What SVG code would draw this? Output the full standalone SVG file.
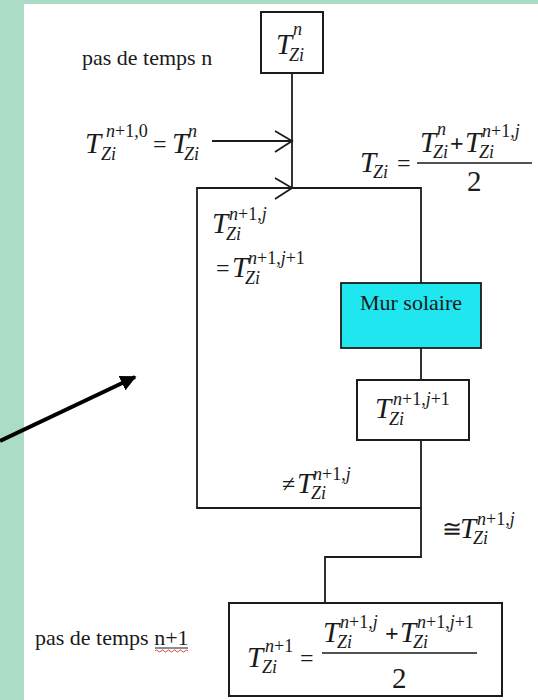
<svg xmlns="http://www.w3.org/2000/svg" width="538" height="700" viewBox="0 0 538 700">
<defs>
<style>
.t{font-family:"Liberation Serif","Times New Roman",serif;fill:#1a1a1a}
.txt{font-size:22px}
.m{font-size:29px;font-style:italic}
.s{font-size:18px;font-style:italic}
.u{font-style:normal}
.op{font-size:24px;font-style:normal}
.box{fill:#fff;stroke:#1c1c1c;stroke-width:2}
.ln{fill:none;stroke:#1c1c1c;stroke-width:1.8}
.fr{stroke:#1a1a1a;stroke-width:1.5}
</style>
<marker id="big" viewBox="0 0 10 10" refX="9" refY="5" markerWidth="4" markerHeight="4" orient="auto" markerUnits="strokeWidth">
<path d="M0,0 L10,5 L0,10 Z" fill="#000"/>
</marker>
</defs>
<rect x="0" y="0" width="538" height="700" fill="#aadcc6"/>
<rect x="24" y="4" width="514" height="696" fill="#fff"/>

<g id="connectors">
<path class="ln" d="M292,73 V188"/>
<path class="ln" d="M212,141 H292"/>
<path class="ln" d="M275,131 L292,141 L275,152"/>
<path class="ln" d="M275,178 L292,188 L275,199"/>
<path class="ln" d="M292,188 H421 V283 M421,348 V380 M421,440 V508 H197 V188 H292"/>
<path class="ln" d="M421,508 V557 H325 V603"/>
<line x1="0" y1="441" x2="135" y2="377" stroke="#000" stroke-width="4" marker-end="url(#big)"/>
</g>

<g id="label-n">
<text class="t txt" x="82" y="65">pas de temps n</text>
</g>

<g id="node-Tn">
<rect class="box" x="261" y="12" width="62" height="61"/>
<text class="t m" x="276" y="54">T</text>
<text class="t s" x="293" y="35">n</text>
<text class="t s" x="289" y="61">Zi</text>
</g>

<g id="label-init">
<text class="t m" x="85" y="153">T</text>
<text class="t s" x="106" y="137">n<tspan class="u">+1,0</tspan></text>
<text class="t s" x="101" y="160">Zi</text>
<text class="t op" x="153" y="152">=</text>
<text class="t m" x="172" y="153">T</text>
<text class="t s" x="188" y="137">n</text>
<text class="t s" x="184" y="160">Zi</text>
</g>

<g id="label-mean">
<text class="t m" x="360" y="172">T</text>
<text class="t s" x="373" y="178">Zi</text>
<text class="t op" x="397" y="171">=</text>
<line class="fr" x1="417" y1="163" x2="532" y2="163"/>
<text class="t m" x="420" y="152">T</text>
<text class="t s" x="437" y="135">n</text>
<text class="t s" x="433" y="158">Zi</text>
<text class="t op" x="450" y="151" font-weight="bold">+</text>
<text class="t m" x="465" y="152">T</text>
<text class="t s" x="482" y="137">n<tspan class="u">+1,</tspan>j</text>
<text class="t s" x="479" y="158">Zi</text>
<text class="t m u" x="467" y="191">2</text>
</g>

<g id="label-loop">
<text class="t m" x="212" y="233">T</text>
<text class="t s" x="229" y="220">n<tspan class="u">+1,</tspan>j</text>
<text class="t s" x="226" y="240">Zi</text>
<text class="t op" x="216" y="276">=</text>
<text class="t m" x="232" y="277">T</text>
<text class="t s" x="248" y="264">n<tspan class="u">+1,</tspan>j<tspan class="u">+1</tspan></text>
<text class="t s" x="245" y="284">Zi</text>
</g>

<g id="node-mur">
<rect x="341" y="283" width="140" height="65" fill="#20e6ef" stroke="#1c1c1c" stroke-width="1.8"/>
<text class="t txt" x="411" y="310" text-anchor="middle" fill="#123c44">Mur solaire</text>
</g>

<g id="node-Tj1">
<rect class="box" x="357" y="380" width="112" height="60"/>
<text class="t m" x="375" y="418">T</text>
<text class="t s" x="393" y="405">n<tspan class="u">+1,</tspan>j<tspan class="u">+1</tspan></text>
<text class="t s" x="389" y="425">Zi</text>
</g>

<g id="label-neq">
<text class="t op" x="282" y="492">≠</text>
<text class="t m" x="297" y="493">T</text>
<text class="t s" x="313" y="480">n<tspan class="u">+1,</tspan>j</text>
<text class="t s" x="311" y="499">Zi</text>
</g>

<g id="label-approx">
<text class="t op" x="442" y="537">≅</text>
<text class="t m" x="460" y="538">T</text>
<text class="t s" x="477" y="525">n<tspan class="u">+1,</tspan>j</text>
<text class="t s" x="473" y="544">Zi</text>
</g>

<g id="label-n1">
<text class="t txt" x="35" y="645">pas de temps n+1</text>
<line x1="155" y1="648" x2="188" y2="648" stroke="#1a1a1a" stroke-width="1"/>
<path d="M155,651 q1.5,-2 3,0 t3,0 t3,0 t3,0 t3,0 t3,0 t3,0 t3,0 t3,0 t3,0 t3,0" fill="none" stroke="#e03030" stroke-width="0.9"/>
</g>

<g id="node-Tn1">
<rect class="box" x="229" y="603" width="273" height="93"/>
<text class="t m" x="247" y="667">T</text>
<text class="t s" x="265" y="652">n<tspan class="u">+1</tspan></text>
<text class="t s" x="262" y="673">Zi</text>
<text class="t op" x="300" y="666">=</text>
<line class="fr" x1="322" y1="653" x2="477" y2="653"/>
<text class="t m" x="323" y="642">T</text>
<text class="t s" x="340" y="628">n<tspan class="u">+1,</tspan>j</text>
<text class="t s" x="337" y="648">Zi</text>
<text class="t op" x="385" y="641" font-weight="bold">+</text>
<text class="t m" x="400" y="642">T</text>
<text class="t s" x="417" y="628">n<tspan class="u">+1,</tspan>j<tspan class="u">+1</tspan></text>
<text class="t s" x="413" y="648">Zi</text>
<text class="t m u" x="392" y="688">2</text>
</g>
</svg>
